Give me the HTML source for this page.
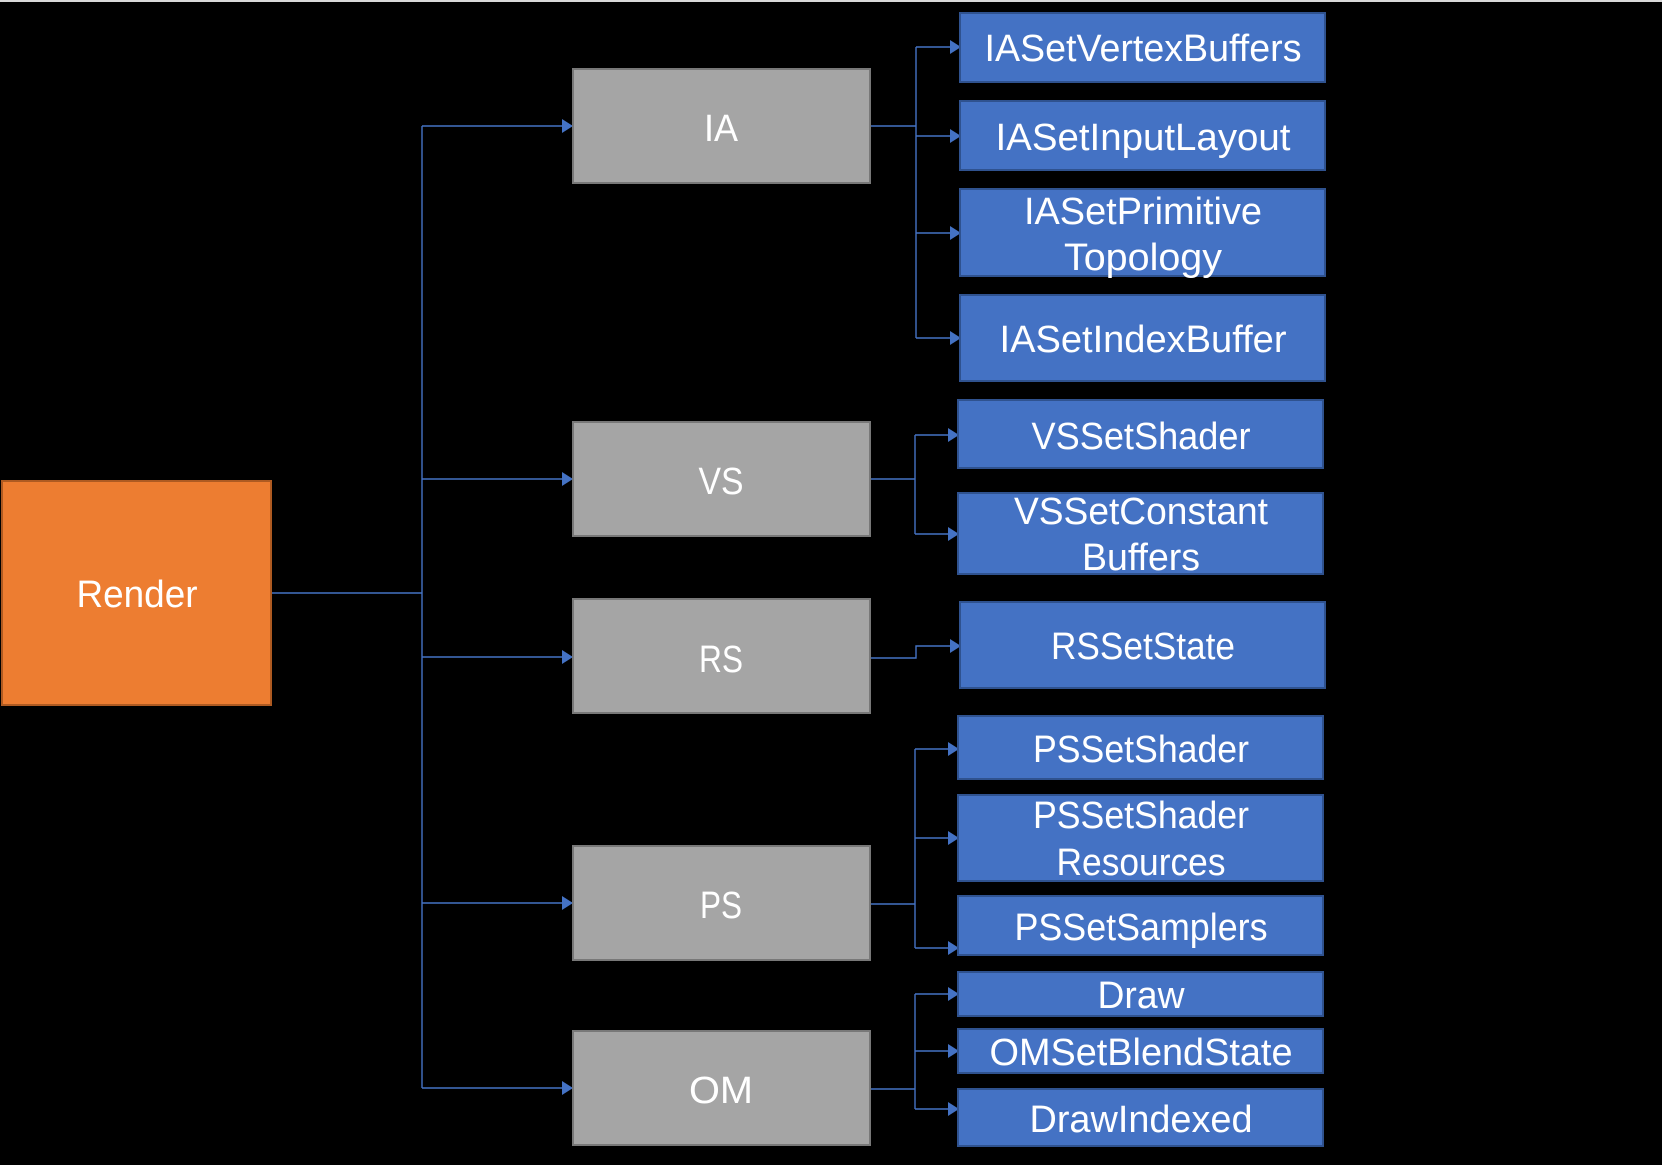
<!DOCTYPE html>
<html><head><meta charset="utf-8"><style>
html,body{margin:0;padding:0;background:#000;}
svg{display:block;}
text{font-family:"Liberation Sans",sans-serif;fill:#fff;font-size:38px;text-anchor:middle;}
</style></head><body>
<svg width="1662" height="1165" viewBox="0 0 1662 1165" xmlns="http://www.w3.org/2000/svg">
<defs>
<marker id="a" markerWidth="11" markerHeight="14" refX="10" refY="7" orient="auto" markerUnits="userSpaceOnUse">
<path d="M0,0 L11,7 L0,14 Z" fill="#4472c4"/></marker>
</defs>
<rect x="0" y="0" width="1662" height="1165" fill="#000"/>
<rect x="0" y="0" width="1662" height="2" fill="#d9d9d9"/>
<g fill="none" stroke="#4472c4" stroke-width="1.4">
<path d="M271,593 H422"/>
<path d="M422,126 V1088"/>
<path d="M422,126 H572" marker-end="url(#a)"/>
<path d="M422,479 H572" marker-end="url(#a)"/>
<path d="M422,657 H572" marker-end="url(#a)"/>
<path d="M422,903 H572" marker-end="url(#a)"/>
<path d="M422,1088 H572" marker-end="url(#a)"/>
<path d="M870,126 H916"/>
<path d="M916,47 V338"/>
<path d="M916,47 H960" marker-end="url(#a)"/>
<path d="M916,136 H960" marker-end="url(#a)"/>
<path d="M916,233 H960" marker-end="url(#a)"/>
<path d="M916,338 H960" marker-end="url(#a)"/>
<path d="M870,479 H915"/>
<path d="M915,435 V534"/>
<path d="M915,435 H958" marker-end="url(#a)"/>
<path d="M915,534 H958" marker-end="url(#a)"/>
<path d="M870,658 H916 V646 H960" marker-end="url(#a)"/>
<path d="M870,904 H915"/>
<path d="M915,749 V948"/>
<path d="M915,749 H958" marker-end="url(#a)"/>
<path d="M915,838 H958" marker-end="url(#a)"/>
<path d="M915,948 H958" marker-end="url(#a)"/>
<path d="M870,1089 H915"/>
<path d="M915,994 V1109"/>
<path d="M915,994 H958" marker-end="url(#a)"/>
<path d="M915,1051 H958" marker-end="url(#a)"/>
<path d="M915,1109 H958" marker-end="url(#a)"/>
</g>
<rect x="2" y="481" width="269" height="224" fill="#ed7d31" stroke="#ae5a21" stroke-width="2"/>
<text x="137" y="607" textLength="121" lengthAdjust="spacingAndGlyphs">Render</text>
<g fill="#a5a5a5" stroke="#787878" stroke-width="2">
<rect x="573" y="69" width="297" height="114"/>
<rect x="573" y="422" width="297" height="114"/>
<rect x="573" y="599" width="297" height="114"/>
<rect x="573" y="846" width="297" height="114"/>
<rect x="573" y="1031" width="297" height="114"/>
</g>
<text x="721" y="141" textLength="34" lengthAdjust="spacingAndGlyphs">IA</text>
<text x="721" y="494" textLength="45" lengthAdjust="spacingAndGlyphs">VS</text>
<text x="721" y="672" textLength="44" lengthAdjust="spacingAndGlyphs">RS</text>
<text x="721" y="918" textLength="42" lengthAdjust="spacingAndGlyphs">PS</text>
<text x="721" y="1103" textLength="64" lengthAdjust="spacingAndGlyphs">OM</text>
<g fill="#4472c4" stroke="#2f528f" stroke-width="2">
<rect x="960" y="13" width="365" height="69"/>
<rect x="960" y="101" width="365" height="69"/>
<rect x="960" y="189" width="365" height="87"/>
<rect x="960" y="295" width="365" height="86"/>
<rect x="958" y="400" width="365" height="68"/>
<rect x="958" y="493" width="365" height="81"/>
<rect x="960" y="602" width="365" height="86"/>
<rect x="958" y="716" width="365" height="63"/>
<rect x="958" y="795" width="365" height="86"/>
<rect x="958" y="896" width="365" height="59"/>
<rect x="958" y="972" width="365" height="44"/>
<rect x="958" y="1029" width="365" height="44"/>
<rect x="958" y="1089" width="365" height="57"/>
</g>
<text x="1143" y="61" textLength="317" lengthAdjust="spacingAndGlyphs">IASetVertexBuffers</text>
<text x="1143" y="150" textLength="295" lengthAdjust="spacingAndGlyphs">IASetInputLayout</text>
<text x="1143" y="224" textLength="238" lengthAdjust="spacingAndGlyphs">IASetPrimitive</text>
<text x="1143" y="270" textLength="158" lengthAdjust="spacingAndGlyphs">Topology</text>
<text x="1143" y="352" textLength="287" lengthAdjust="spacingAndGlyphs">IASetIndexBuffer</text>
<text x="1141" y="449" textLength="219" lengthAdjust="spacingAndGlyphs">VSSetShader</text>
<text x="1141" y="524" textLength="254" lengthAdjust="spacingAndGlyphs">VSSetConstant</text>
<text x="1141" y="570" textLength="118" lengthAdjust="spacingAndGlyphs">Buffers</text>
<text x="1143" y="659" textLength="184" lengthAdjust="spacingAndGlyphs">RSSetState</text>
<text x="1141" y="762" textLength="216" lengthAdjust="spacingAndGlyphs">PSSetShader</text>
<text x="1141" y="828" textLength="216" lengthAdjust="spacingAndGlyphs">PSSetShader</text>
<text x="1141" y="875" textLength="169" lengthAdjust="spacingAndGlyphs">Resources</text>
<text x="1141" y="940" textLength="253" lengthAdjust="spacingAndGlyphs">PSSetSamplers</text>
<text x="1141" y="1008" textLength="87" lengthAdjust="spacingAndGlyphs">Draw</text>
<text x="1141" y="1065" textLength="303" lengthAdjust="spacingAndGlyphs">OMSetBlendState</text>
<text x="1141" y="1132" textLength="223" lengthAdjust="spacingAndGlyphs">DrawIndexed</text>
</svg>
</body></html>
